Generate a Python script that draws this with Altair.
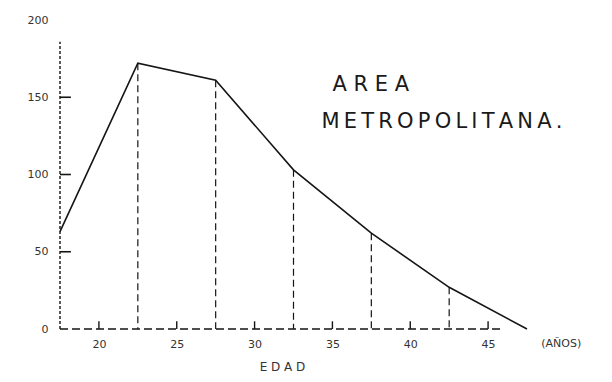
import altair as alt
import pandas as pd

# Data
edad = [17.5, 22.5, 27.5, 32.5, 37.5, 42.5, 47.5]
valores = [63, 172, 161, 103, 62, 27, 0]
x_ticks = [20, 25, 30, 35, 40, 45]
y_ticks = [0, 50, 100, 150, 200]
y_inner_ticks = [50, 100, 150]

line_df = pd.DataFrame({"edad": edad, "valor": valores})
drop_df = line_df[(line_df.edad > 17.5) & (line_df.edad < 47.5)].copy()
drop_df["cero"] = 0

xs = alt.Scale(domain=[17.5, 47.5], nice=False, zero=False)
ys = alt.Scale(domain=[0, 200], nice=False)

FONT = "DejaVu Sans"
INK = "#151515"

base_x_axis = alt.Axis(values=x_ticks, ticks=False, domain=False, grid=False,
                       labelPadding=9, labelFontSize=11, labelColor="#333",
                       title="E D A D", titleFontSize=12, titleFontWeight="normal",
                       titleColor="#333", titlePadding=12, titleX=222)
base_y_axis = alt.Axis(values=y_ticks, ticks=False, domain=False, grid=False,
                       labelPadding=12, labelFontSize=11, labelColor="#333", title=None)

line = alt.Chart(line_df).mark_line(color=INK, strokeWidth=1.6).encode(
    x=alt.X("edad:Q", scale=xs, axis=base_x_axis),
    y=alt.Y("valor:Q", scale=ys, axis=base_y_axis),
)

drops = alt.Chart(drop_df).mark_rule(color=INK, strokeWidth=1.2, strokeDash=[7, 4]).encode(
    x="edad:Q", y="valor:Q", y2="cero:Q"
)

# hand-drawn axis lines
yaxis_df = pd.DataFrame({"x": [17.5], "y0": [0], "y1": [186]})
yaxis = alt.Chart(yaxis_df).mark_rule(color=INK, strokeWidth=1.4, strokeDash=[3, 2]).encode(
    x="x:Q", y="y0:Q", y2="y1:Q"
)
xaxis_df = pd.DataFrame({"x0": [17.5], "x1": [46.0], "y": [0]})
xaxis = alt.Chart(xaxis_df).mark_rule(color=INK, strokeWidth=1.4, strokeDash=[8, 4]).encode(
    x="x0:Q", x2="x1:Q", y="y:Q"
)

ytick_df = pd.DataFrame({"v": y_inner_ticks, "x0": [17.5] * 3, "x1": [18.2] * 3})
yticks = alt.Chart(ytick_df).mark_rule(color=INK, strokeWidth=1.6).encode(
    x="x0:Q", x2="x1:Q", y="v:Q"
)
xtick_df = pd.DataFrame({"v": x_ticks, "y0": [0] * 6, "y1": [5] * 6})
xticks = alt.Chart(xtick_df).mark_rule(color=INK, strokeWidth=1.4).encode(
    x="v:Q", y="y0:Q", y2="y1:Q"
)

# annotations
ann_df = pd.DataFrame({
    "x": [35.0, 34.3],
    "y": [158, 134],
    "t": ["A R E A", "M\u2009E\u2009T\u2009R\u2009O\u2009P\u2009O\u2009L\u2009I\u2009T\u2009A\u2009N\u2009A\u2009."],
})
ann = alt.Chart(ann_df).mark_text(align="left", baseline="middle", font=FONT,
                                  fontSize=21, color="#1a1a1a").encode(
    x="x:Q", y="y:Q", text="t:N"
)

anos_df = pd.DataFrame({"x": [49.7], "y": [-10], "t": ["(AÑOS)"]})
anos = alt.Chart(anos_df).mark_text(align="center", baseline="middle", font=FONT,
                                    fontSize=11, color="#333", clip=False).encode(
    x="x:Q", y="y:Q", text="t:N"
)

chart = alt.layer(yaxis, xaxis, drops, line, yticks, xticks, ann, anos).properties(
    width=467, height=309,
    autosize=alt.AutoSizeParams(type="none"),
    padding={"left": 52, "top": 12, "right": 72, "bottom": 50},
).configure_view(stroke=None).configure_axis(labelFont=FONT, titleFont=FONT)

chart.save("out.html", embed_options={"renderer": "svg", "actions": False})
